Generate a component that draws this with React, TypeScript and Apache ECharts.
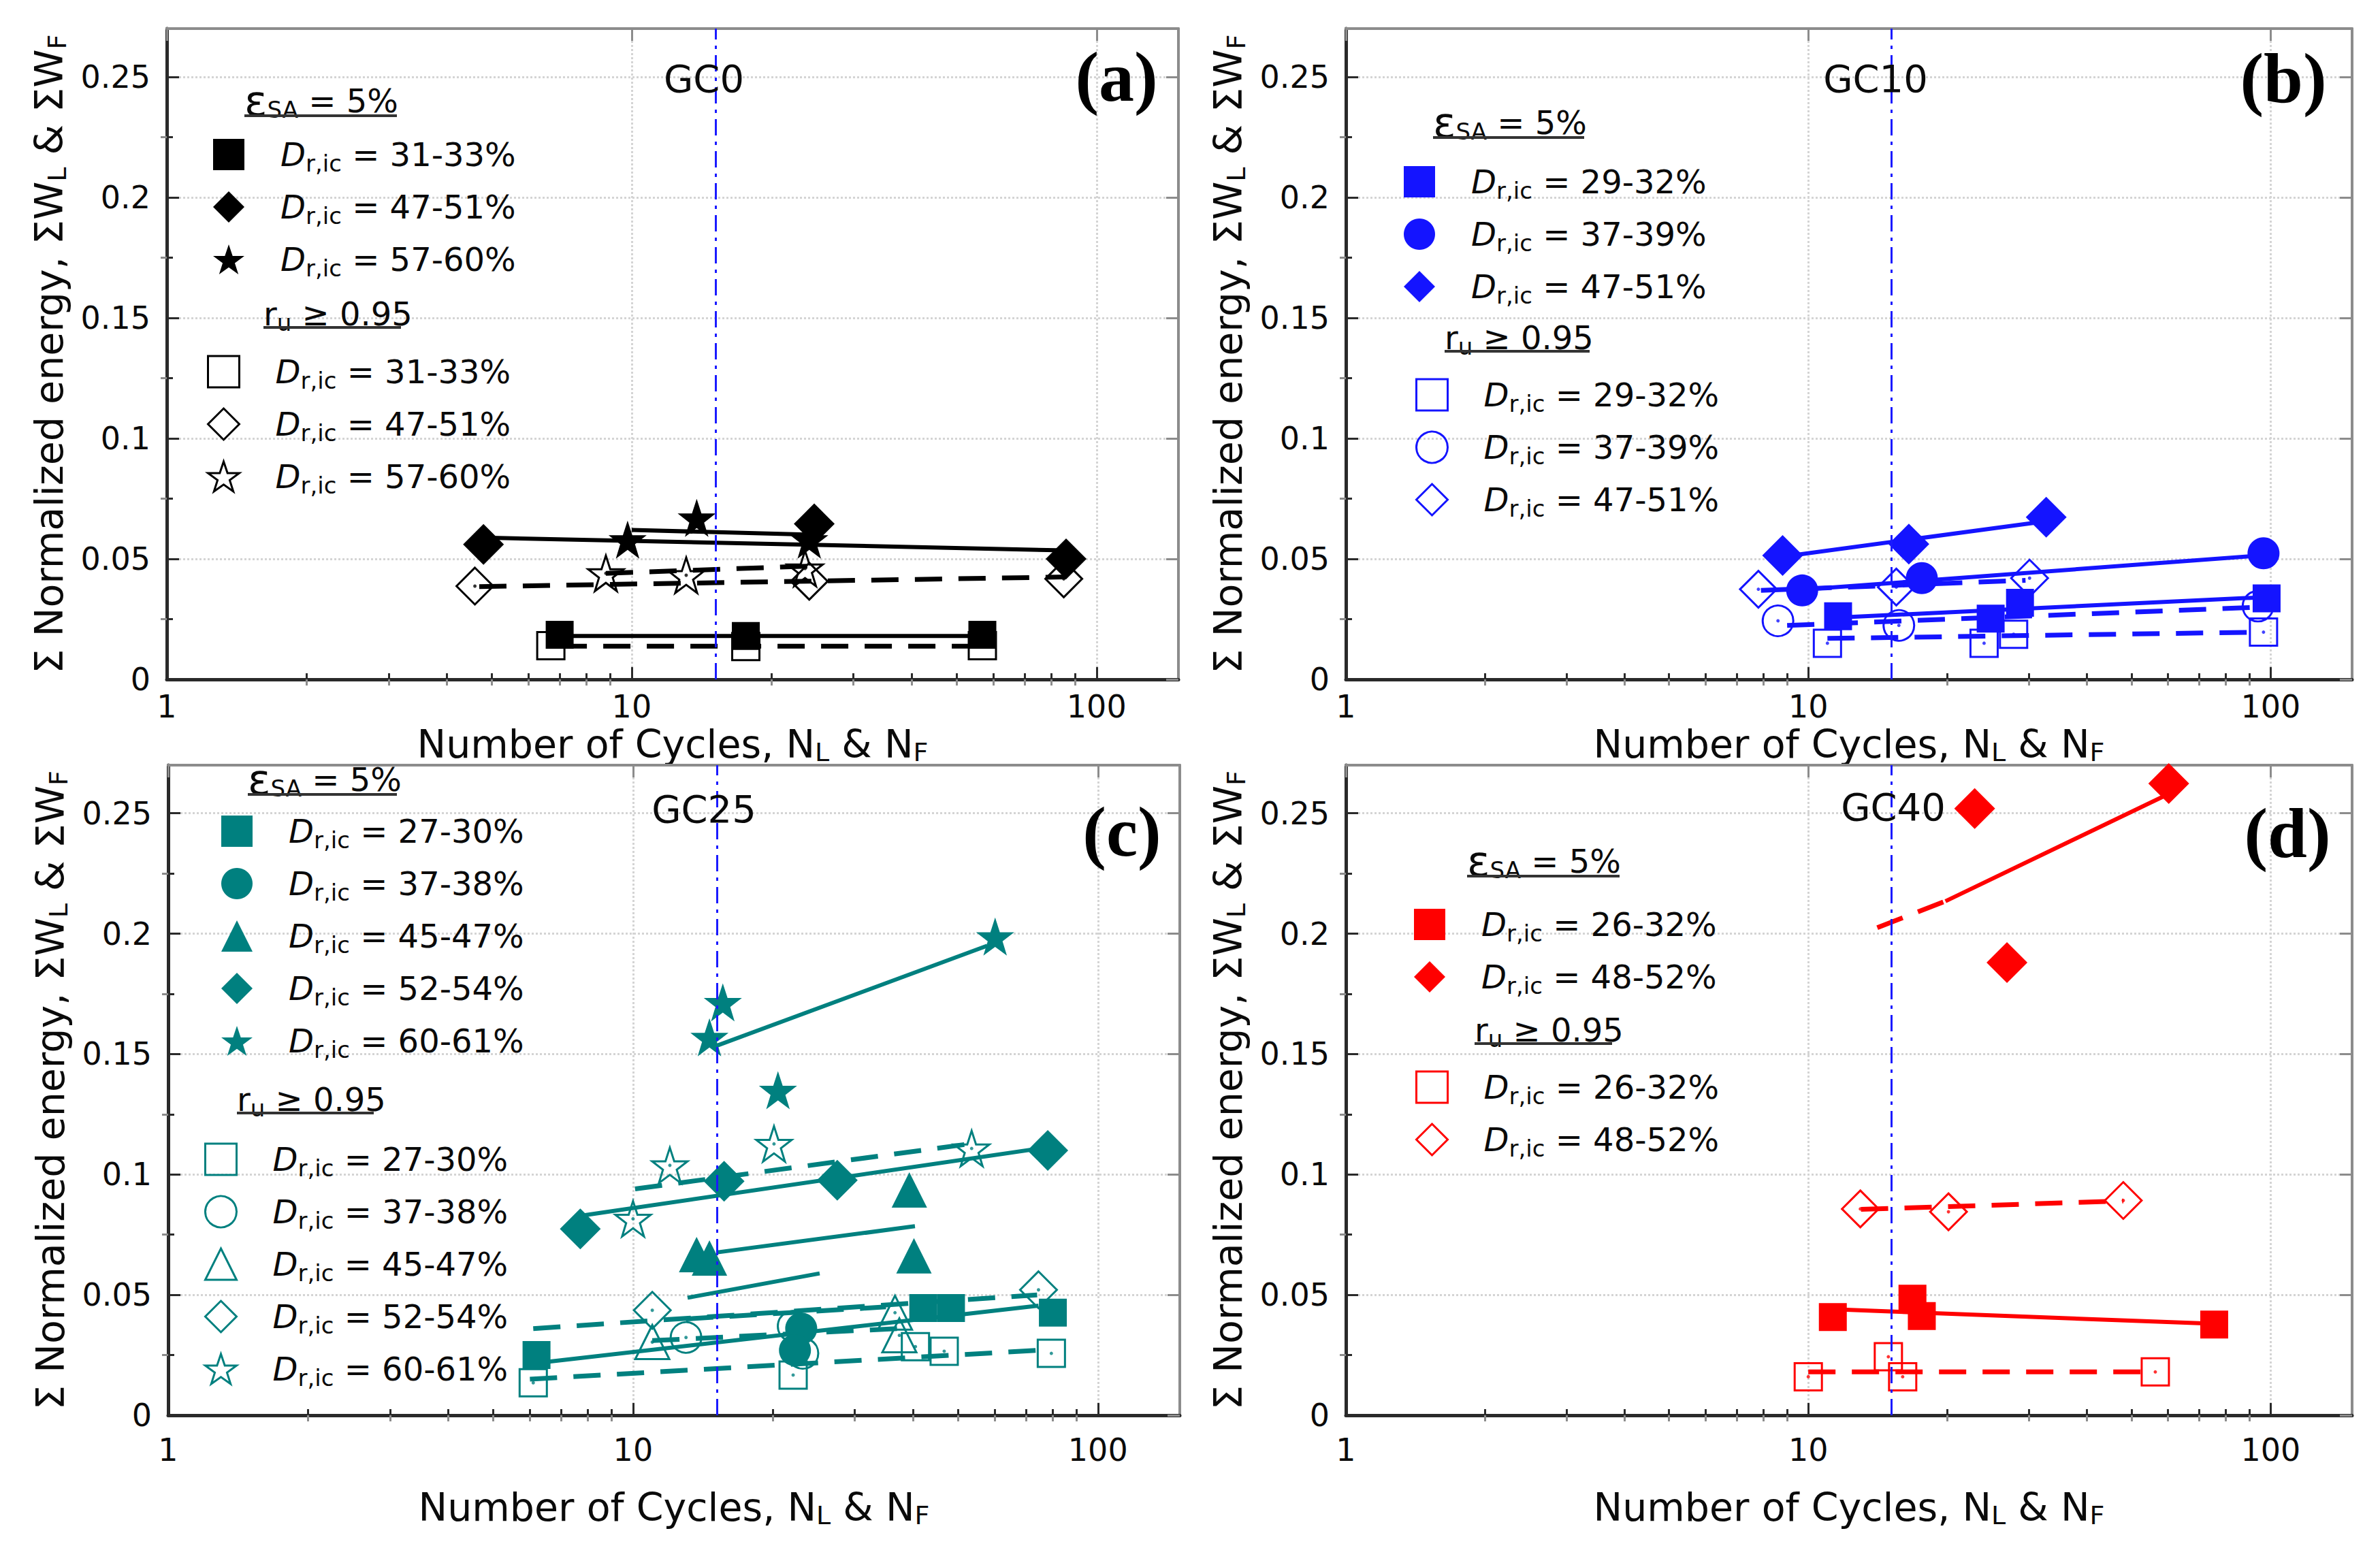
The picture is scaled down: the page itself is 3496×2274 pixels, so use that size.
import React, { useEffect, useRef } from 'react';
import * as echarts from 'echarts';

type Pt = [number, number];

// ---------- Panel (a) GC0 ----------
const A_SQ: Pt[] = [[7.0, 0.0185], [17.6, 0.018], [56.8, 0.0185]];
const A_DIA: Pt[] = [[4.8, 0.056], [24.7, 0.0645], [86, 0.05]];
const A_STAR: Pt[] = [[9.8, 0.058], [13.8, 0.067], [24.1, 0.058]];
const A_OSQ: Pt[] = [[6.7, 0.014], [17.6, 0.0136], [56.8, 0.014]];
const A_ODIA: Pt[] = [[4.6, 0.0387], [24.1, 0.0407], [85, 0.0417]];
const A_OSTAR: Pt[] = [[8.8, 0.044], [13.1, 0.0432], [23.6, 0.046]];
const A_FIT_SQ: Pt[] = [[7.0, 0.018], [57, 0.018]];
const A_FIT_DIA: Pt[] = [[4.8, 0.0588], [86, 0.0535]];
const A_FIT_STAR: Pt[] = [[10, 0.062], [24.5, 0.06]];
const A_FIT_OSQ: Pt[] = [[7.0, 0.0138], [57, 0.0138]];
const A_FIT_ODIA: Pt[] = [[4.7, 0.0385], [86, 0.0425]];
const A_FIT_OSTAR: Pt[] = [[8.8, 0.044], [24, 0.047]];

// ---------- Panel (b) GC10 ----------
const B_SQ: Pt[] = [[11.6, 0.0262], [24.8, 0.0252], [28.7, 0.0318], [98, 0.0336]];
const B_CIR: Pt[] = [[9.7, 0.0369], [17.6, 0.042], [96.5, 0.0523]];
const B_DIA: Pt[] = [[8.8, 0.0514], [16.5, 0.0561], [32.7, 0.0673]];
const B_OSQ: Pt[] = [[11.0, 0.015], [24.0, 0.015], [27.8, 0.0187], [96.5, 0.0196]];
const B_OCIR: Pt[] = [[8.6, 0.0243], [15.7, 0.0224], [93.9, 0.0304]];
const B_ODIA: Pt[] = [[7.8, 0.0374], [15.5, 0.0383], [30.1, 0.042]];
const B_FIT_SQ: Pt[] = [[11.7, 0.0257], [97, 0.0341]];
const B_FIT_CIR: Pt[] = [[10, 0.0374], [95, 0.0514]];
const B_FIT_DIA: Pt[] = [[9.2, 0.0514], [32, 0.0654]];
const B_FIT_OSQ: Pt[] = [[11, 0.017], [95, 0.0196]];
const B_FIT_OCIR: Pt[] = [[9.0, 0.0224], [93, 0.0299]];
const B_FIT_ODIA: Pt[] = [[7.9, 0.0369], [29.5, 0.0411]];

// ---------- Panel (c) GC25 ----------
const C_SQ: Pt[] = [[6.2, 0.025], [42.1, 0.0445], [48.3, 0.0445], [80, 0.0426]];
const C_CIR: Pt[] = [[23.0, 0.036], [22.3, 0.027]];
const C_TRI: Pt[] = [[13.7, 0.0667], [14.6, 0.0653], [39.3, 0.0936], [40.2, 0.0662]];
const C_DIA: Pt[] = [[7.7, 0.0774], [15.7, 0.0972], [27.5, 0.0976], [78, 0.11]];
const C_STAR: Pt[] = [[14.6, 0.157], [15.6, 0.1715], [20.5, 0.135], [60.1, 0.1988]];
const C_OSQ: Pt[] = [[6.1, 0.0135], [22.1, 0.0167], [40.5, 0.0285], [46.7, 0.0266], [79.4, 0.0257]];
const C_OCIR: Pt[] = [[13.0, 0.0323], [22.1, 0.037], [23.2, 0.0257]];
const C_OTRI: Pt[] = [[11.0, 0.0304], [36.6, 0.0426], [37.4, 0.0332]];
const C_ODIA: Pt[] = [[11.0, 0.0436], [74.5, 0.0521]];
const C_OSTAR: Pt[] = [[10.0, 0.0816], [12.0, 0.1038], [20.1, 0.1127], [53.5, 0.1108]];
const C_FIT_SQ: Pt[] = [[6.4, 0.022], [74.5, 0.0455]];
const C_FIT_CIR: Pt[] = [[13.1, 0.0488], [25.2, 0.0589]];
const C_FIT_TRI: Pt[] = [[15.1, 0.0676], [40.4, 0.0785]];
const C_FIT_DIA: Pt[] = [[7.8, 0.083], [78, 0.1113]];
const C_FIT_STAR: Pt[] = [[14.9, 0.153], [57.8, 0.195]];
const C_FIT_OSQ: Pt[] = [[6.0, 0.015], [78, 0.0272]];
const C_FIT_OCIR: Pt[] = [[11, 0.031], [37, 0.036]];
const C_FIT_OTRI: Pt[] = [[13, 0.04], [35, 0.045]];
const C_FIT_ODIA: Pt[] = [[6.1, 0.036], [74, 0.05]];
const C_FIT_OSTAR: Pt[] = [[10.1, 0.094], [52, 0.1125]];

// ---------- Panel (d) GC40 ----------
const D_SQ: Pt[] = [[11.3, 0.0408], [16.8, 0.0484], [17.6, 0.0412], [75.5, 0.0377]];
const D_DIA: Pt[] = [[22.9, 0.252], [60.2, 0.2624], [26.9, 0.188]];
const D_OSQ: Pt[] = [[10.0, 0.016], [14.9, 0.0243], [16.0, 0.016], [56.3, 0.018]];
const D_ODIA: Pt[] = [[12.96, 0.0857], [20.1, 0.0845], [48, 0.0892]];
const D_FIT_SQ: Pt[] = [[11.3, 0.044], [75, 0.038]];
const D_FIT_DIA_EXT: Pt[] = [[14.1, 0.2025], [19.8, 0.2135]];
const D_FIT_DIA: Pt[] = [[19.8, 0.2135], [58.6, 0.257]];
const D_FIT_OSQ: Pt[] = [[10, 0.018], [56, 0.018]];
const D_FIT_ODIA: Pt[] = [[13, 0.0855], [48, 0.089]];

// ---------- Axes ----------
const X_MIN = 1;
const X_MAX = 150;
const Y_MIN = 0;
const Y_MAX = 0.27;
const X_MAJOR = [1, 10, 100];
const X_MINOR = [2, 3, 4, 5, 6, 7, 8, 9, 20, 30, 40, 50, 60, 70, 80, 90];
const Y_MAJOR = [0, 0.05, 0.1, 0.15, 0.2, 0.25];
const Y_MINOR = [0.025, 0.075, 0.125, 0.175, 0.225];
const N_LIMIT = 15;

const FONT = '"DejaVu Sans", "Liberation Sans", sans-serif';
const STAR = 'path://M50,0L61.8,35.1L97.6,35.1L68.5,56.7L79.4,91L50,70L20.6,91L31.5,56.7L2.4,35.1L38.2,35.1Z';

const SHAPES: Record<string, { symbol: string; size: number; osize: number }> = {
  sq: { symbol: 'rect', size: 41, osize: 40 },
  cir: { symbol: 'circle', size: 47, osize: 45 },
  dia: { symbol: 'diamond', size: 60, osize: 54 },
  tri: { symbol: 'triangle', size: 52, osize: 50 },
  star: { symbol: STAR, size: 56, osize: 52 },
};

type Group = { label: string; shape: string; pts: Pt[] };
type Fit = { pts: Pt[]; dash: boolean };

const PANELS = [
  {
    id: 'a', color: '#000000', title: 'GC0', letter: '(a)',
    left: 245, top: 42, w: 1486, h: 956, nameGap: 64, margin: 17,
    gc: [1034, 115], let: [1640, 112], hE: [359, 148, 224], hR: [387, 461, 202], lgF: [336, 197], lgO: [327, 516],
    filled: [
      { label: '31-33%', shape: 'sq', pts: A_SQ },
      { label: '47-51%', shape: 'dia', pts: A_DIA },
      { label: '57-60%', shape: 'star', pts: A_STAR },
    ] as Group[],
    open: [
      { label: '31-33%', shape: 'sq', pts: A_OSQ },
      { label: '47-51%', shape: 'dia', pts: A_ODIA },
      { label: '57-60%', shape: 'star', pts: A_OSTAR },
    ] as Group[],
    fits: [
      { pts: A_FIT_SQ, dash: false }, { pts: A_FIT_DIA, dash: false }, { pts: A_FIT_STAR, dash: false },
      { pts: A_FIT_OSQ, dash: true }, { pts: A_FIT_ODIA, dash: true }, { pts: A_FIT_OSTAR, dash: true },
    ] as Fit[],
  },
  {
    id: 'b', color: '#1414ff', title: 'GC10', letter: '(b)',
    left: 1977, top: 42, w: 1478, h: 956, nameGap: 64, margin: 17,
    gc: [2755, 115], let: [3354, 114], hE: [2105, 180, 222], hR: [2122, 496, 213], lgF: [2085, 237], lgO: [2102, 550],
    filled: [
      { label: '29-32%', shape: 'sq', pts: B_SQ },
      { label: '37-39%', shape: 'cir', pts: B_CIR },
      { label: '47-51%', shape: 'dia', pts: B_DIA },
    ] as Group[],
    open: [
      { label: '29-32%', shape: 'sq', pts: B_OSQ },
      { label: '37-39%', shape: 'cir', pts: B_OCIR },
      { label: '47-51%', shape: 'dia', pts: B_ODIA },
    ] as Group[],
    fits: [
      { pts: B_FIT_SQ, dash: false }, { pts: B_FIT_CIR, dash: false }, { pts: B_FIT_DIA, dash: false },
      { pts: B_FIT_OSQ, dash: true }, { pts: B_FIT_OCIR, dash: true }, { pts: B_FIT_ODIA, dash: true },
    ] as Fit[],
  },
  {
    id: 'c', color: '#00807f', title: 'GC25', letter: '(c)',
    left: 247, top: 1124, w: 1486, h: 955, nameGap: 104, margin: 28,
    gc: [1034, 1188], let: [1648, 1221], hE: [364, 1145, 219], hR: [348, 1615, 201], lgF: [348, 1191], lgO: [323, 1673],
    filled: [
      { label: '27-30%', shape: 'sq', pts: C_SQ },
      { label: '37-38%', shape: 'cir', pts: C_CIR },
      { label: '45-47%', shape: 'tri', pts: C_TRI },
      { label: '52-54%', shape: 'dia', pts: C_DIA },
      { label: '60-61%', shape: 'star', pts: C_STAR },
    ] as Group[],
    open: [
      { label: '27-30%', shape: 'sq', pts: C_OSQ },
      { label: '37-38%', shape: 'cir', pts: C_OCIR },
      { label: '45-47%', shape: 'tri', pts: C_OTRI },
      { label: '52-54%', shape: 'dia', pts: C_ODIA },
      { label: '60-61%', shape: 'star', pts: C_OSTAR },
    ] as Group[],
    fits: [
      { pts: C_FIT_SQ, dash: false }, { pts: C_FIT_CIR, dash: false }, { pts: C_FIT_TRI, dash: false },
      { pts: C_FIT_DIA, dash: false }, { pts: C_FIT_STAR, dash: false },
      { pts: C_FIT_OSQ, dash: true }, { pts: C_FIT_OCIR, dash: true }, { pts: C_FIT_OTRI, dash: true },
      { pts: C_FIT_ODIA, dash: true }, { pts: C_FIT_OSTAR, dash: true },
    ] as Fit[],
  },
  {
    id: 'd', color: '#ff0000', title: 'GC40', letter: '(d)',
    left: 1977, top: 1124, w: 1478, h: 955, nameGap: 104, margin: 28,
    gc: [2781, 1185], let: [3360, 1223], hE: [2155, 1265, 224], hR: [2166, 1513, 202], lgF: [2100, 1328], lgO: [2102, 1567],
    filled: [
      { label: '26-32%', shape: 'sq', pts: D_SQ },
      { label: '48-52%', shape: 'dia', pts: D_DIA },
    ] as Group[],
    open: [
      { label: '26-32%', shape: 'sq', pts: D_OSQ },
      { label: '48-52%', shape: 'dia', pts: D_ODIA },
    ] as Group[],
    fits: [
      { pts: D_FIT_SQ, dash: false }, { pts: D_FIT_DIA_EXT, dash: true }, { pts: D_FIT_DIA, dash: false },
      { pts: D_FIT_OSQ, dash: true }, { pts: D_FIT_ODIA, dash: true },
    ] as Fit[],
  },
];

const ICON = 46;
const lg = (v: number) => Math.log10(v);
const toLog = (pts: Pt[]) => pts.map(([n, w]) => [lg(n), w]);

const TXT = '#0a0a0a';
const AX = '#2a2a2a';
const AX2 = '#8c8c8c';

function buildOption() {
  const grid: any[] = [];
  const xAxis: any[] = [];
  const yAxis: any[] = [];
  const series: any[] = [];
  const legend: any[] = [];
  const graphic: any[] = [];

  const legRich = {
    g: { width: 48, fontSize: 48, lineHeight: 60, fontFamily: FONT },
    d: { fontStyle: 'italic', fontSize: 48, lineHeight: 60, fontFamily: FONT, color: TXT },
    s: { fontSize: 34, lineHeight: 26, verticalAlign: 'bottom', fontFamily: FONT, color: TXT },
    t: { fontSize: 48, lineHeight: 60, fontFamily: FONT, color: TXT },
  };
  const nameStyle = {
    fontSize: 57, fontFamily: FONT, color: TXT, lineHeight: 62,
    rich: { s: { fontSize: 38, lineHeight: 26, verticalAlign: 'bottom', fontFamily: FONT, color: TXT } },
  };

  PANELS.forEach((p, i) => {
    const gMain = 2 * i;
    const gMinor = 2 * i + 1;
    const rect = { left: p.left, top: p.top, width: p.w, height: p.h };
    grid.push({ ...rect }, { ...rect });

    const xBase = { type: 'value', min: lg(X_MIN), max: lg(X_MAX) };
    const yBase = { type: 'value', min: Y_MIN, max: Y_MAX };
    const tick = (vals: number[], len: number, color: string) => ({
      show: true, inside: true, length: len, customValues: vals, lineStyle: { color, width: 3 },
    });
    const split = { show: true, lineStyle: { color: '#d4d4d4', type: 'dotted', width: 3 } };

    // x axes
    xAxis.push({
      ...xBase, gridIndex: gMain, position: 'bottom',
      axisLine: { show: true, onZero: false, lineStyle: { color: AX, width: 5 } },
      axisTick: tick(X_MAJOR.map(lg), 18, AX),
      axisLabel: {
        show: true, customValues: X_MAJOR.map(lg), margin: p.margin, fontSize: 46, lineHeight: 46, fontFamily: FONT, color: TXT,
        formatter: (v: number) => String(Math.round(Math.pow(10, v))),
      },
      splitLine: split,
      name: 'Number of Cycles, N{s|L} & N{s|F}', nameLocation: 'middle', nameGap: p.nameGap,
      nameMoveOverlap: false, nameTextStyle: nameStyle,
    });
    xAxis.push({
      ...xBase, gridIndex: gMain, position: 'top',
      axisLine: { show: true, onZero: false, lineStyle: { color: AX2, width: 4 } },
      axisTick: tick(X_MAJOR.map(lg), 18, AX2), axisLabel: { show: false }, splitLine: { show: false },
    });
    xAxis.push({
      ...xBase, gridIndex: gMinor, position: 'bottom',
      axisLine: { show: false }, axisTick: tick(X_MINOR.map(lg), 9, AX), axisLabel: { show: false }, splitLine: { show: false },
    });
    xAxis.push({
      ...xBase, gridIndex: gMinor, position: 'top',
      axisLine: { show: false }, axisTick: tick(X_MINOR.map(lg), 9, AX2), axisLabel: { show: false }, splitLine: { show: false },
    });

    // y axes
    yAxis.push({
      ...yBase, gridIndex: gMain, position: 'left',
      axisLine: { show: true, onZero: false, lineStyle: { color: AX, width: 5 } },
      axisTick: tick(Y_MAJOR, 18, AX),
      axisLabel: {
        show: true, customValues: Y_MAJOR, margin: 24, fontSize: 46, fontFamily: FONT, color: TXT,
        formatter: (v: number) => (v === 0 ? '0' : String(+v.toFixed(3))),
      },
      splitLine: split,
      name: 'Σ Normalized energy, ΣW{s|L} & ΣW{s|F}', nameLocation: 'middle', nameGap: 142,
      nameMoveOverlap: false, nameTextStyle: nameStyle,
    });
    yAxis.push({
      ...yBase, gridIndex: gMain, position: 'right',
      axisLine: { show: true, onZero: false, lineStyle: { color: AX2, width: 4 } },
      axisTick: tick(Y_MAJOR, 18, AX2), axisLabel: { show: false }, splitLine: { show: false },
    });
    yAxis.push({
      ...yBase, gridIndex: gMinor, position: 'left',
      axisLine: { show: false }, axisTick: tick(Y_MINOR, 9, AX), axisLabel: { show: false }, splitLine: { show: false },
    });
    yAxis.push({
      ...yBase, gridIndex: gMinor, position: 'right',
      axisLine: { show: false }, axisTick: tick(Y_MINOR, 9, AX2), axisLabel: { show: false }, splitLine: { show: false },
    });

    const xi = 4 * i;
    const yi = 4 * i;

    // fit lines
    p.fits.forEach((f, k) => {
      series.push({
        type: 'line', name: `${p.id}-fit-${k}`, xAxisIndex: xi, yAxisIndex: yi,
        data: toLog(f.pts), showSymbol: false, symbol: 'none', silent: true, z: 2,
        lineStyle: { color: p.color, width: f.dash ? 7 : 6, type: f.dash ? [40, 24] : 'solid' },
      });
    });

    // markers
    const fNames: string[] = [];
    const oNames: string[] = [];
    p.filled.forEach((g) => {
      const sh = SHAPES[g.shape];
      const name = `${p.id}|f|${g.label}`;
      fNames.push(name);
      series.push({
        type: 'scatter', name, xAxisIndex: xi, yAxisIndex: yi, data: toLog(g.pts),
        symbol: sh.symbol, symbolSize: sh.size, z: 4,
        itemStyle: { color: p.color, opacity: 1 },
      });
    });
    p.open.forEach((g, k) => {
      const sh = SHAPES[g.shape];
      const name = `${p.id}|o|${g.label}`;
      oNames.push(name);
      series.push({
        type: 'scatter', name, xAxisIndex: xi, yAxisIndex: yi, data: toLog(g.pts),
        symbol: sh.symbol, symbolSize: sh.osize, z: 3,
        itemStyle: { color: 'rgba(255,255,255,0)', borderColor: p.color, borderWidth: 3, opacity: 1 },
      });
      series.push({
        type: 'scatter', name: `${p.id}-dot-${k}`, xAxisIndex: xi, yAxisIndex: yi, data: toLog(g.pts),
        symbol: 'circle', symbolSize: 5, z: 3, silent: true,
        itemStyle: { color: p.color },
      });
    });

    // vertical dash-dot line at N = 15
    series.push({
      type: 'line', name: `${p.id}-limit`, xAxisIndex: xi, yAxisIndex: yi, data: [], z: 6, silent: true,
      markLine: {
        silent: true, symbol: 'none', label: { show: false }, animation: false,
        lineStyle: { color: '#1a1aff', width: 3, type: [24, 9, 5, 9] },
        data: [{ xAxis: lg(N_LIMIT) }],
      },
    });

    const legBase = {
      orient: 'vertical', padding: 0, itemWidth: ICON, itemHeight: ICON, itemGap: 17, selectedMode: false,
      textStyle: { fontSize: 48, fontFamily: FONT, color: TXT, lineHeight: 60, rich: legRich },
      formatter: (name: string) => `{g| }{d|D}{s|r,ic}{t| = ${name.split('|')[2]}}`,
    };
    legend.push({ ...legBase, left: p.lgF[0] - ICON / 2, top: p.lgF[1], data: fNames });
    legend.push({ ...legBase, left: p.lgO[0] - ICON / 2, top: p.lgO[1], data: oNames, itemStyle: { borderWidth: 3 } });

    // texts
    graphic.push({
      type: 'text', x: p.gc[0], y: p.gc[1], z: 20,
      style: { text: p.title, fontSize: 56, fontFamily: FONT, fill: TXT, align: 'center', verticalAlign: 'middle' },
    });
    graphic.push({
      type: 'text', x: p.let[0], y: p.let[1], z: 20,
      style: {
        text: p.letter, fontSize: 104, fontWeight: 'bold', fontFamily: '"Liberation Serif", "DejaVu Serif", serif',
        fill: '#000', align: 'center', verticalAlign: 'middle',
      },
    });
    const headRich = {
      e: { fontSize: 62, lineHeight: 60, fontFamily: FONT, fill: TXT },
      m: { fontSize: 48, lineHeight: 60, fontFamily: FONT, fill: TXT },
      s: { fontSize: 34, lineHeight: 26, verticalAlign: 'bottom', fontFamily: FONT, fill: TXT },
    };
    graphic.push({
      type: 'text', x: p.hE[0], y: p.hE[1], z: 20,
      style: { text: '{e|ε}{s|SA}{m| = 5%}', rich: headRich, align: 'left', verticalAlign: 'middle', fill: TXT, fontFamily: FONT, fontSize: 48 },
    });
    graphic.push({
      type: 'line', z: 20, shape: { x1: p.hE[0], y1: p.hE[1] + 22, x2: p.hE[0] + p.hE[2], y2: p.hE[1] + 22 },
      style: { stroke: '#333', lineWidth: 4 },
    });
    graphic.push({
      type: 'text', x: p.hR[0], y: p.hR[1], z: 20,
      style: { text: '{m|r}{s|u}{m| ≥ 0.95}', rich: headRich, align: 'left', verticalAlign: 'middle', fill: TXT, fontFamily: FONT, fontSize: 48 },
    });
    graphic.push({
      type: 'line', z: 20, shape: { x1: p.hR[0], y1: p.hR[1] + 20, x2: p.hR[0] + p.hR[2], y2: p.hR[1] + 20 },
      style: { stroke: '#333', lineWidth: 4 },
    });
  });

  return {
    animation: false,
    backgroundColor: '#ffffff',
    textStyle: { fontFamily: FONT },
    grid, xAxis, yAxis, series, legend, graphic,
  };
}

export default function App() {
  const ref = useRef<HTMLDivElement>(null);
  useEffect(() => {
    document.body.style.margin = '0';
    if (!ref.current) return;
    const chart = echarts.init(ref.current, undefined, { renderer: 'svg' });
    chart.setOption(buildOption() as any);
    return () => chart.dispose();
  }, []);
  return <div ref={ref} style={{ width: 3496, height: 2274, background: '#fff' }} />;
}
